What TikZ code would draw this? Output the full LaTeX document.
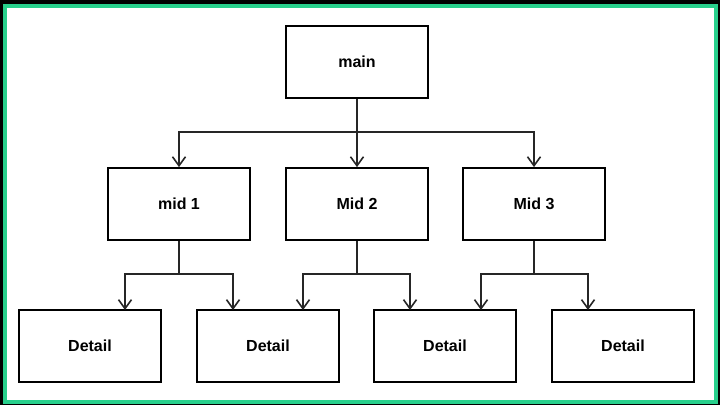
\documentclass[tikz,border=0pt]{standalone}
\usepackage{fontspec}
\setmainfont{Liberation Sans}
\usetikzlibrary{arrows.meta}
\definecolor{framegreen}{RGB}{40,208,140}
\begin{document}
\begin{tikzpicture}[
    x=1pt, y=-1pt,
    >={Straight Barb[length=9pt, width=13pt]},
    box/.style={draw=black, fill=white, line width=1.8pt,
        minimum width=142pt, minimum height=72pt,
        font=\fontsize{16}{19}\selectfont\bfseries},
    link/.style={draw=black!85, line width=1.6pt}
]

\def\yt{62}
\def\ym{204}
\def\yd{346}
\def\jt{132}
\def\jm{274}

% frame
\fill[black] (0,0) rectangle (720,405);
\draw[framegreen, line width=4pt, fill=white] (5,6) rectangle (716,402);

% top
\node[box] (main) at (357,\yt) {main};

% middle row
\node[box] (m1) at (179,\ym) {mid 1};
\node[box] (m2) at (357,\ym) {Mid 2};
\node[box] (m3) at (534,\ym) {Mid 3};

% detail row
\node[box] (d1) at (90,\yd)  {Detail};
\node[box] (d2) at (268,\yd) {Detail};
\node[box] (d3) at (445,\yd) {Detail};
\node[box] (d4) at (623,\yd) {Detail};

% junctions
\coordinate (j0) at (357,\jt);
\coordinate (j1) at (179,\jm);
\coordinate (j2) at (357,\jm);
\coordinate (j3) at (534,\jm);

% arrow ends on the detail row
\coordinate (e11) at (125,310);
\coordinate (e12) at (233,310);
\coordinate (e21) at (303,310);
\coordinate (e22) at (410,310);
\coordinate (e31) at (481,310);
\coordinate (e32) at (588,310);

% main -> mid
\draw[link] (main) -- (j0);
\draw[link, ->] (j0) -| (m1);
\draw[link, ->] (j0) -- (m2);
\draw[link, ->] (j0) -| (m3);

% mid -> detail
\draw[link] (m1) -- (j1);
\draw[link, ->] (j1) -| (e11);
\draw[link, ->] (j1) -| (e12);
\draw[link] (m2) -- (j2);
\draw[link, ->] (j2) -| (e21);
\draw[link, ->] (j2) -| (e22);
\draw[link] (m3) -- (j3);
\draw[link, ->] (j3) -| (e31);
\draw[link, ->] (j3) -| (e32);

\end{tikzpicture}
\end{document}
